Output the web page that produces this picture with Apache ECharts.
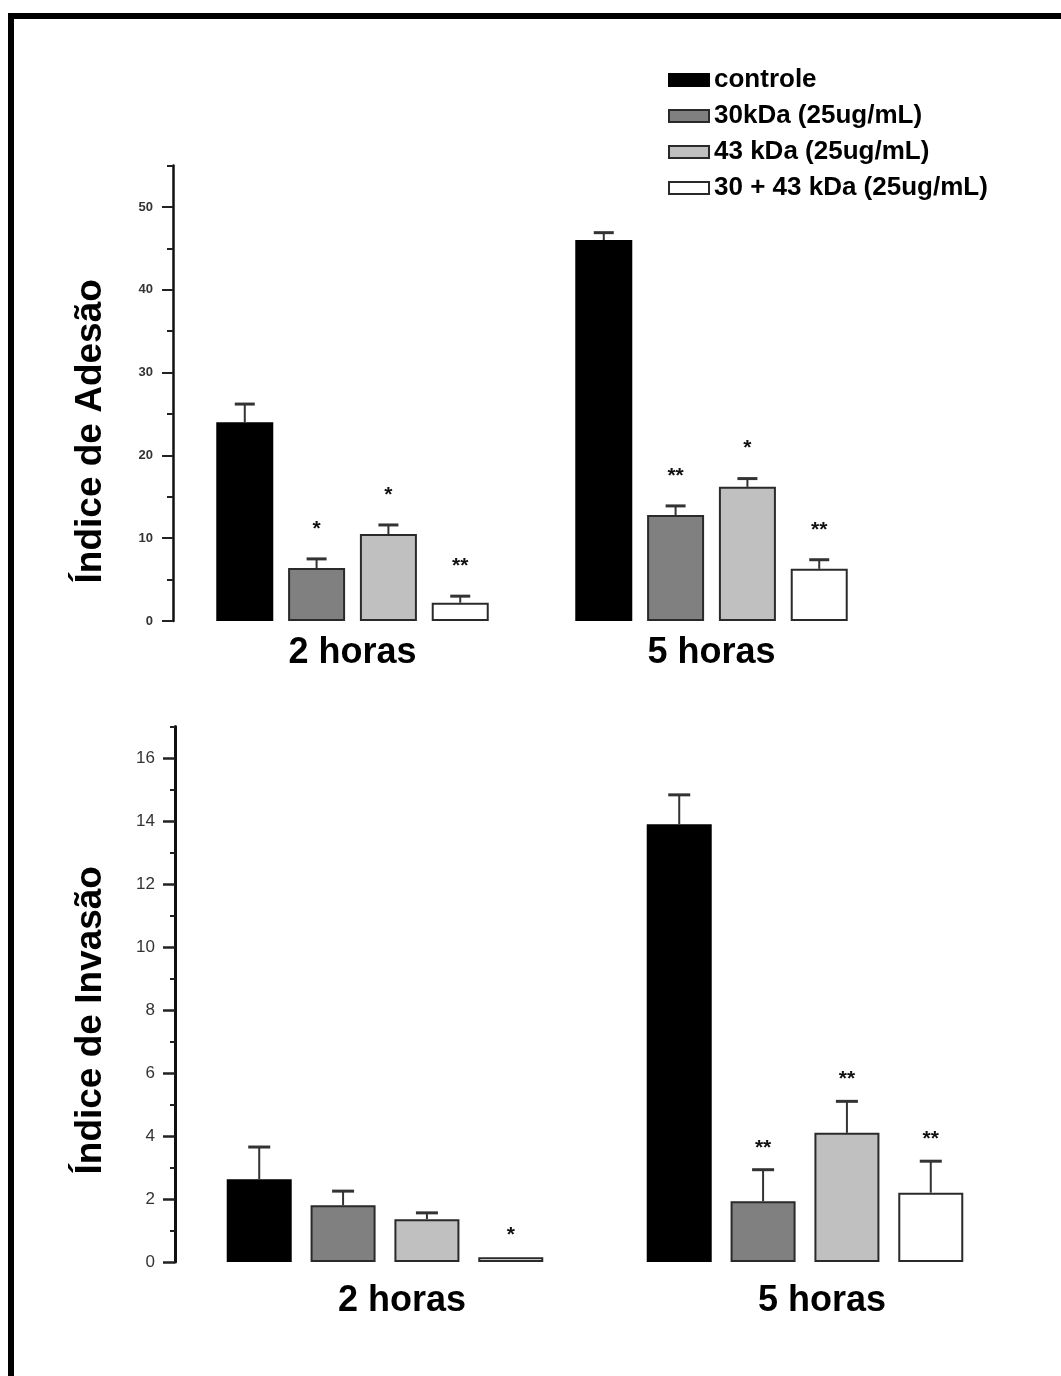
<!DOCTYPE html>
<html>
<head>
<meta charset="utf-8">
<script src="https://cdn.jsdelivr.net/npm/echarts@6/dist/echarts.min.js"></script>
<style>
  html, body { margin: 0; padding: 0; background: #fff; }
  #chart { width: 1061px; height: 1376px; }
</style>
</head>
<body>
<div id="chart"></div>
<script>
// ---------- DATA ----------
var categories = ['2 horas', '5 horas'];
var seriesNames = ['controle', '30kDa (25ug/mL)', '43 kDa (25ug/mL)', '30 + 43 kDa (25ug/mL)'];

// Índice de Adesão (mean)
var adesaoControle = [24.0, 46.0];
var adesao30 = [6.4, 12.8];
var adesao43 = [10.5, 16.2];
var adesao3043 = [2.2, 6.3];
// Índice de Adesão (error, upper)
var adesaoErrControle = [2.2, 0.9];
var adesaoErr30 = [1.1, 1.1];
var adesaoErr43 = [1.1, 1.0];
var adesaoErr3043 = [0.8, 1.1];
// significance marks
var adesaoSigControle = ['', ''];
var adesaoSig30 = ['*', '**'];
var adesaoSig43 = ['*', '*'];
var adesaoSig3043 = ['**', '**'];

// Índice de Invasão (mean)
var invasaoControle = [2.63, 13.9];
var invasao30 = [1.8, 1.93];
var invasao43 = [1.36, 4.1];
var invasao3043 = [0.15, 2.2];
// Índice de Invasão (error, upper)
var invasaoErrControle = [1.02, 0.93];
var invasaoErr30 = [0.45, 1.0];
var invasaoErr43 = [0.2, 1.0];
var invasaoErr3043 = [0, 1.0];
var invasaoSigControle = ['', ''];
var invasaoSig30 = ['', '**'];
var invasaoSig43 = ['', '**'];
var invasaoSig3043 = ['*', '**'];

// axis ticks
var adesaoMajorTicks = [0, 10, 20, 30, 40, 50];
var adesaoMinorTicks = [5, 15, 25, 35, 45, 55];
var invasaoMajorTicks = [0, 2, 4, 6, 8, 10, 12, 14, 16];
var invasaoMinorTicks = [1, 3, 5, 7, 9, 11, 13, 15, 17];

// ---------- STYLE ----------
var barColors = ['#000000', '#808080', '#c0c0c0', '#ffffff'];
var barBorders = ['#000000', '#2a2a2a', '#2a2a2a', '#2a2a2a'];
var topLayout = { barWidth: 57, gapRatio: 0.26, capHalf: 10, sigOffset: 30, sigSize: 21 };
var botLayout = { barWidth: 65, gapRatio: 0.29, capHalf: 11, sigOffset: 22, sigSize: 21 };
var FONT = "'Liberation Sans', Arial, sans-serif";

var adesaoMeans = [adesaoControle, adesao30, adesao43, adesao3043];
var adesaoErrs = [adesaoErrControle, adesaoErr30, adesaoErr43, adesaoErr3043];
var adesaoSigs = [adesaoSigControle, adesaoSig30, adesaoSig43, adesaoSig3043];
var invasaoMeans = [invasaoControle, invasao30, invasao43, invasao3043];
var invasaoErrs = [invasaoErrControle, invasaoErr30, invasaoErr43, invasaoErr3043];
var invasaoSigs = [invasaoSigControle, invasaoSig30, invasaoSig43, invasaoSig3043];

function barSeries(gridIdx, means, layout) {
  return means.map(function (vals, i) {
    return {
      name: seriesNames[i],
      type: 'bar',
      xAxisIndex: gridIdx,
      yAxisIndex: gridIdx * 2,
      data: vals,
      barWidth: layout.barWidth,
      barGap: Math.round(layout.gapRatio * 100) + '%',
      itemStyle: { color: barColors[i], borderColor: barBorders[i], borderWidth: 2 },
      silent: true,
      z: 2
    };
  });
}

function errSeries(gridIdx, means, errs, sigs, layout) {
  var data = [];
  means.forEach(function (vals, s) {
    vals.forEach(function (v, c) {
      data.push([c, v, errs[s][c], s]);
    });
  });
  var sigFlat = [];
  sigs.forEach(function (arr) { arr.forEach(function (t) { sigFlat.push(t); }); });
  var pitch = layout.barWidth * (1 + layout.gapRatio);
  return {
    type: 'custom',
    xAxisIndex: gridIdx,
    yAxisIndex: gridIdx * 2,
    data: data,
    silent: true,
    z: 5,
    renderItem: function (params, api) {
      var c = api.value(0), m = api.value(1), e = api.value(2), s = api.value(3);
      var base = api.coord([c, m]);
      var top = api.coord([c, m + e]);
      var x = base[0] + (s - 1.5) * pitch;
      var children = [];
      if (e > 0) {
        children.push({ type: 'line', shape: { x1: x, y1: base[1], x2: x, y2: top[1] },
          style: { stroke: '#333', lineWidth: 2 } });
        children.push({ type: 'line', shape: { x1: x - layout.capHalf, y1: top[1], x2: x + layout.capHalf, y2: top[1] },
          style: { stroke: '#333', lineWidth: 3 } });
      }
      var t = sigFlat[params.dataIndex];
      if (t) {
        children.push({ type: 'text', x: x, y: top[1] - layout.sigOffset,
          style: { text: t, fill: '#111', font: 'bold ' + layout.sigSize + 'px ' + FONT,
                   align: 'center', verticalAlign: 'middle' } });
      }
      return { type: 'group', children: children };
    }
  };
}

var chart = echarts.init(document.getElementById('chart'));
var option = {
  backgroundColor: '#fff',
  animation: false,
  graphic: [
    { type: 'rect', shape: { x: 11, y: 16, width: 1200, height: 1500 },
      style: { fill: 'none', stroke: '#000', lineWidth: 6 }, z: 100, silent: true }
  ],
  legend: {
    data: seriesNames,
    orient: 'vertical',
    left: 663,
    top: 62,
    itemWidth: 40,
    itemHeight: 12,
    itemGap: 10,
    icon: 'rect',
    selectedMode: false,
    textStyle: { fontFamily: FONT, fontWeight: 'bold', fontSize: 26, color: '#000', lineHeight: 26 }
  },
  grid: [
    { left: 173, right: 170, top: 165.6, bottom: 755, containLabel: false },
    { left: 175, right: 46, top: 726.5, bottom: 114, containLabel: false }
  ],
  xAxis: [
    { type: 'category', gridIndex: 0, data: categories,
      axisLine: { show: false }, axisTick: { show: false },
      axisLabel: { fontFamily: FONT, fontWeight: 'bold', fontSize: 36, color: '#000', margin: 14 } },
    { type: 'category', gridIndex: 1, data: categories,
      axisLine: { show: false }, axisTick: { show: false },
      axisLabel: { fontFamily: FONT, fontWeight: 'bold', fontSize: 36, color: '#000', margin: 21,
                   padding: [0, 0, 0, 34] } }
  ],
  yAxis: [
    { type: 'value', gridIndex: 0, min: 0, max: 55, position: 'left',
      name: 'Índice de Adesão', nameLocation: 'middle', nameRotate: 90, nameGap: 64,
      nameTextStyle: { fontFamily: FONT, fontWeight: 'bold', fontSize: 37, color: '#000', padding: [0, 76, 0, 0] },
      splitLine: { show: false },
      axisLine: { show: true, lineStyle: { color: '#111', width: 2.5 } },
      axisTick: { show: true, length: 11, customValues: adesaoMajorTicks, lineStyle: { color: '#222', width: 2 } },
      axisLabel: { customValues: adesaoMajorTicks, margin: 20, fontFamily: FONT, fontWeight: 'bold', fontSize: 13, color: '#333' } },
    { type: 'value', gridIndex: 0, min: 0, max: 55, position: 'left',
      splitLine: { show: false },
      axisLine: { show: false },
      axisTick: { show: true, length: 6, customValues: adesaoMinorTicks, lineStyle: { color: '#222', width: 2 } },
      axisLabel: { show: false } },
    { type: 'value', gridIndex: 1, min: 0, max: 17, position: 'left',
      name: 'Índice de Invasão', nameLocation: 'middle', nameRotate: 90, nameGap: 66,
      nameTextStyle: { fontFamily: FONT, fontWeight: 'bold', fontSize: 37, color: '#000', padding: [0, 52, 0, 0] },
      splitLine: { show: false },
      axisLine: { show: true, lineStyle: { color: '#111', width: 3 } },
      axisTick: { show: true, length: 12, customValues: invasaoMajorTicks, lineStyle: { color: '#222', width: 2.5 } },
      axisLabel: { customValues: invasaoMajorTicks, margin: 20, fontFamily: FONT, fontSize: 17, color: '#333' } },
    { type: 'value', gridIndex: 1, min: 0, max: 17, position: 'left',
      splitLine: { show: false },
      axisLine: { show: false },
      axisTick: { show: true, length: 5, customValues: invasaoMinorTicks, lineStyle: { color: '#222', width: 2 } },
      axisLabel: { show: false } }
  ],
  series: []
    .concat(barSeries(0, adesaoMeans, topLayout))
    .concat(barSeries(1, invasaoMeans, botLayout))
    .concat([errSeries(0, adesaoMeans, adesaoErrs, adesaoSigs, topLayout),
             errSeries(1, invasaoMeans, invasaoErrs, invasaoSigs, botLayout)])
};
chart.setOption(option);
</script>
</body>
</html>
